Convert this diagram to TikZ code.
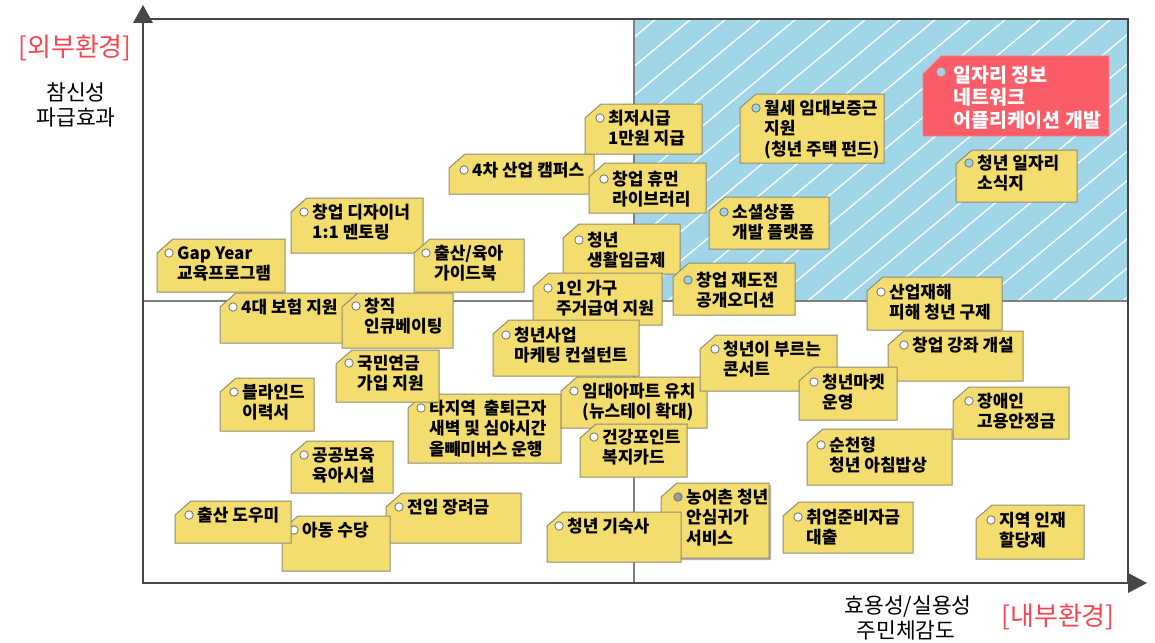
\documentclass[tikz,border=0pt]{standalone}
\usepackage{fontspec}
\setmainfont{Noto Sans CJK KR}
\definecolor{tagfill}{RGB}{243,221,110}
\definecolor{tagline}{RGB}{145,140,115}
\definecolor{redtag}{RGB}{250,92,104}
\definecolor{bluef}{RGB}{160,214,232}
\definecolor{holeblue}{RGB}{160,210,228}
\definecolor{axiscol}{RGB}{70,70,70}
\definecolor{labred}{RGB}{245,70,80}
\tikzset{
  tagbox/.style={draw=tagline, line width=1pt, fill=tagfill},
  redbox/.style={fill=redtag, draw=redtag!80!white, line width=0.8pt},
  holeline/.style={draw=black!55, line width=0.8pt},
  tt/.style={anchor=west, inner sep=0pt, font=\bfseries\fontsize{17}{20}\selectfont, text height=14.5pt, text depth=2pt},
  rt/.style={anchor=west, inner sep=0pt, text=white, font=\bfseries\fontsize{19.5}{22}\selectfont, text height=16.5pt, text depth=2.2pt},
  frame/.style={draw=axiscol, line width=2.5pt},
  midline/.style={draw=black!50, line width=1.3pt},
  hatch/.style={draw=white, line width=1.3pt},
  axlab/.style={inner sep=0pt, font=\fontsize{21.5}{24}\selectfont},
  envlab/.style={inner sep=0pt, text=labred, font=\fontsize{26}{29}\selectfont}
}
\newcommand\tg[7][white]{%
  \draw[tagbox] (#2,#3+14) -- (#2+16,#3) -- (#4,#3) -- (#4,#5) -- (#2,#5) -- cycle;
  \draw[holeline,fill=#1] ({#6-9},#7) circle[radius=4.2];
}
\newcommand\tgt[6]{%
  \node[tt] (#1a) at (#2,#3) {#4};
  \if\relax\detokenize{#5}\relax\else\node[tt] (#1b) at (#2,#3+20.5) {#5};\fi
  \if\relax\detokenize{#6}\relax\else\node[tt] (#1c) at (#2,#3+41) {#6};\fi
}
\begin{document}
\begin{tikzpicture}[x=1pt,y=-1pt]
\useasboundingbox (0,0) rectangle (1155,642);
% blue quadrant with hatching
\begin{scope}
  \clip (634,19) rectangle (1128,301);
  \fill[bluef] (634,19) rectangle (1128,301);
  \foreach \k in {0,...,24} \draw[hatch] ({317.6+35*\k},301) -- ({317.6+35*\k+338.4},19);
\end{scope}
% mid lines
\draw[midline] (634,19) -- (634,582);
\draw[midline] (143,301) -- (1128,301);
% frame and axes
\draw[frame] (143,19) -- (1128,19) -- (1128,583);
\draw[frame] (143,583) -- (143,21);
\draw[frame] (142,583) -- (1130,583);
\fill[axiscol] (133,23) -- (143,5) -- (153,23) -- cycle;
\fill[axiscol] (1128,573) -- (1147,583) -- (1128,593) -- cycle;
% axis labels
\node[envlab] (ext) at (75,48) {[외부환경]};
\node[axlab] (ya1) at (76,92) {참신성};
\node[axlab] (ya2) at (76,117) {파급효과};
\node[axlab] (xa1) at (908,607) {효용성/실용성};
\node[axlab] (xa2) at (906,630) {주민체감도};
\node[envlab] (int) at (1058,617) {[내부환경]};
% tags (upper area)
\tg{449}{154}{594}{194}{473}{170}
\tgt{t02}{472}{170}{4차 산업 캠퍼스}{}{}
\tg{585}{104}{702}{154}{609}{118}
\tgt{t01}{608}{118}{최저시급}{1만원 지급}{}
\tg{589}{163}{706}{213}{613}{179}
\tgt{t03}{612}{179}{창업 휴먼}{라이브러리}{}
\tg[holeblue]{740}{94}{884}{163}{765}{108}
\tgt{t04}{764}{108}{월세 임대보증근}{지원}{(청년 주택 펀드)}
% red tag
\draw[redbox] (923,56+18) -- (923+18,56) -- (1109,56) -- (1109,136) -- (923,136) -- cycle;
\fill[holeblue] (941,72) circle[radius=4.5];
\node[rt] (t05a) at (953,75) {일자리 정보};
\node[rt] (t05b) at (953,97.5) {네트워크};
\node[rt] (t05c) at (953,120) {어플리케이션 개발};
\tg[holeblue]{956}{150}{1077}{202}{978}{163}
\tgt{t06}{977}{163}{청년 일자리}{소식지}{}
\tg[holeblue]{709}{197}{829}{249}{733}{212}
\tgt{t07}{732}{212}{소셜상품}{개발 플랫폼}{}
\tg{563}{224}{680}{274}{588}{240}
\tgt{t08}{587}{240}{청년}{생활임금제}{}
\tg[holeblue]{673}{263}{795}{315}{697}{280}
\tgt{t09}{696}{280}{창업 재도전}{공개오디션}{}
\tg{867}{277}{1002}{330}{890}{292}
\tgt{t10}{889}{292}{산업재해}{피해 청년 구제}{}
\tg{157}{239}{285}{292}{178}{253}
\tgt{t11}{177}{253}{Gap Year}{교육프로그램}{}
\tg{291}{198}{423}{253}{313}{212}
\tgt{t12}{312}{212}{창업 디자이너}{1:1 멘토링}{}
\tg{414}{239}{524}{292}{435}{253}
\tgt{t13}{434}{253}{출산/육아}{가이드북}{}
\tg{533}{273}{662}{325}{557}{288}
\tgt{t14}{556}{288}{1인 가구}{주거급여 지원}{}
% lower area
\tg{493}{320}{639}{376}{515}{335}
\tgt{t17}{514}{335}{청년사업}{마케팅 컨설턴트}{}
\tg{220}{293}{356}{343}{242}{307}
\tgt{t15}{241}{307}{4대 보험 지원}{}{}
\tg{342}{293}{453}{348}{365}{306}
\tgt{t16}{364}{306}{창직}{인큐베이팅}{}
\tg{408}{394}{561}{463}{430}{408}
\tgt{t20}{429}{408}{타지역\ \ 출퇴근자}{새벽 및 심야시간}{올빼미버스 운행}
\tg{336}{350}{439}{402}{358}{363}
\tgt{t18}{357}{363}{국민연금}{가입 지원}{}
\tg{220}{378}{314}{431}{243}{392}
\tgt{t19}{242}{392}{블라인드}{이력서}{}
\tg{561}{377}{707}{428}{583}{391}
\tgt{t21}{582}{391}{임대아파트 유치}{(뉴스테이 확대)}{}
\tg{580}{424}{687}{477}{603}{437}
\tgt{t26}{602}{437}{건강포인트}{복지카드}{}
\tg{700}{335}{837}{391}{724}{349}
\tgt{t22}{723}{349}{청년이 부르는}{콘서트}{}
\tg{888}{331}{1023}{381}{913}{345}
\tgt{t24}{912}{345}{창업 강좌 개설}{}{}
\tg{799}{367}{897}{420}{823}{382}
\tgt{t23}{822}{382}{청년마켓}{운영}{}
\tg{953}{387}{1069}{439}{978}{401}
\tgt{t25}{977}{401}{장애인}{고용안정금}{}
\tg{807}{429}{952}{485}{830}{445}
\tgt{t27}{829}{445}{순천형}{청년 아침밥상}{}
\tg{291}{441}{393}{493}{313}{455}
\tgt{t28}{312}{455}{공공보육}{육아시설}{}
\fill[black!30] (663,485+14) -- (663+16,485) -- (771,485) -- (771,560) -- (663,560) -- cycle;
\tg[black!40]{661}{483}{769}{558}{687}{497}
\tgt{t29}{686}{497}{농어촌 청년}{안심귀가}{서비스}
\tg{547}{512}{681}{562}{568}{526}
\tgt{t30}{567}{526}{청년 기숙사}{}{}
\tg{783}{502}{913}{553}{807}{517}
\tgt{t31}{806}{517}{취업준비자금}{대출}{}
\tg{976}{505}{1084}{559}{1000}{520}
\tgt{t32}{999}{520}{지역 인재}{할당제}{}
\tg{386}{493}{521}{543}{408}{507}
\tgt{t33}{407}{507}{전입 장려금}{}{}
\tg{282}{516}{390}{571}{303}{530}
\tgt{t35}{302}{530}{아동 수당}{}{}
\tg{175}{501}{291}{543}{198}{515}
\tgt{t34}{197}{515}{출산 도우미}{}{}
\end{tikzpicture}
\end{document}
